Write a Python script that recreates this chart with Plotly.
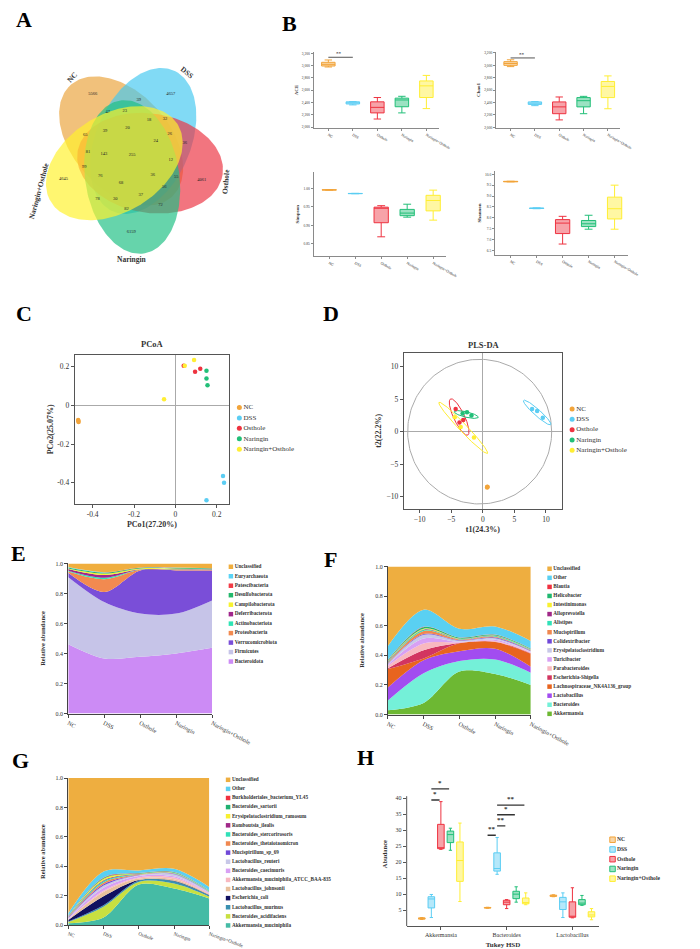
import numpy as np
import plotly.graph_objects as go

W, H = 700, 949
SERIF = "Liberation Serif"
INK = "#333333"

# ---------------- data ----------------
GROUPS = ["NC", "DSS", "Osthole", "Naringin", "Naringin+Osthole"]
GROUP_COLORS = ["#F2A43A", "#5BCDF3", "#EE3340", "#22BF78", "#FFEE33"]

# A: Venn (shared OTUs)
VENN_COLORS = ["#EBA43C", "#46C8F0", "#EC3343", "#1EC083", "#FFF22C"]
VENN_DIRS = [126, 54, 342, 270, 198]
VENN_COUNTS = [5566, 4657, 4061, 6159, 4645, 39, 47, 23, 18, 32, 65, 39, 20, 26, 24,
               36, 81, 143, 255, 12, 99, 36, 55, 76, 68, 56, 78, 30, 37, 72, 82]
VENN_LX = [-42, 41, 74, -1, -73, 7, -26, -8, 18, 35, -50, -29, -5, 40, 25,
           56, -47, -30, 0, 41, -51, 22, 47, -34, -12, 34, -37, -18, 9, 30, -6]
VENN_LY = [64, 64, -23, -75, -22, 58, 45, 46, 37, 38, 22, 26, 29, 23, 16,
           14, 5, 3, 2, -3, -10, -18, -20, -19, -26, -30, -42, -42, -38, -48, -52]
VENN_NAME_X = [-64, 58, 100, 0, -99]
VENN_NAME_Y = [80, 85, -25, -103, -34]
VENN_NAME_ANGLE = [-48, 40, -85, 0, -75]

# B: alpha diversity  [lower, q1, median, q3, upper] per group
ACE_STATS = [[2977, 2993, 3020, 3053, 3091], [2360, 2375, 2395, 2410, 2412],
             [2130, 2230, 2320, 2410, 2480], [2230, 2330, 2440, 2470, 2500],
             [2300, 2480, 2670, 2750, 2840]]
CHAO1_STATS = [[2980, 3000, 3030, 3060, 3090], [2350, 2370, 2390, 2410, 2415],
               [2120, 2220, 2330, 2410, 2490], [2220, 2330, 2430, 2480, 2500],
               [2300, 2480, 2660, 2740, 2830]]
SIMPSON_STATS = [[0.9950, 0.9952, 0.9956, 0.9960, 0.9962], [0.9852, 0.9855, 0.9858, 0.9861, 0.9863],
                 [0.869, 0.907, 0.946, 0.949, 0.953], [0.922, 0.926, 0.933, 0.943, 0.957],
                 [0.914, 0.939, 0.967, 0.981, 0.995]]
SHANNON_STATS = [[9.65, 9.655, 9.665, 9.675, 9.68], [8.42, 8.43, 8.44, 8.45, 8.46],
                 [6.80, 7.28, 7.76, 7.92, 8.07], [7.48, 7.60, 7.73, 7.88, 8.12],
                 [7.48, 7.95, 8.42, 8.95, 9.50]]
ACE_SIG_Y, CHAO1_SIG_Y = 3135, 3120

# C: PCoA
PCOA_X = [[-0.470, -0.468, -0.469], [0.230, 0.235, 0.150], [0.040, 0.095, 0.120],
          [0.150, 0.150, 0.155], [0.045, 0.090, -0.055]]
PCOA_Y = [[-0.075, -0.085, -0.080], [-0.365, -0.400, -0.490], [0.205, 0.175, 0.190],
          [0.180, 0.140, 0.105], [0.205, 0.235, 0.032]]

# D: PLS-DA
PLS_X = [[0.70, 0.75, 0.68], [7.8, 8.6, 9.5], [-4.3, -3.1, -3.7], [-3.2, -2.5, -1.8], [-4.45, -3.5, -1.4]]
PLS_Y = [[-8.5, -8.55, -8.6], [3.5, 3.2, 2.15], [3.5, 1.8, 1.4], [2.8, 3.0, 2.5], [2.2, 0.7, -0.9]]
# group, cx, cy, semi-major, semi-minor, angle
PLS_ELLIPSES = [(1, 8.6, 2.95, 2.85, 0.5, -41), (2, -3.75, 2.25, 3.1, 0.85, -64),
                (3, -2.62, 2.64, 1.95, 0.42, -13), (4, -3.1, 0.58, 5.5, 0.6, -45.7)]
PLS_CIRCLE = (-0.5, 0.0, 11.4, 11.15)

# E: phylum
E_TAXA = ["Bacteroidota", "Firmicutes", "Verrucomicrobiota", "Proteobacteria", "Actinobacteriota",
          "Deferribacterota", "Campilobacterota", "Desulfobacterota", "Patescibacteria",
          "Euryarchaeota", "Unclassified"]
E_COLORS = ["#CC8BF5", "#C6C4E8", "#7A4ED8", "#F28A50", "#2FE4B5", "#A0268C",
            "#F7F22E", "#23B86B", "#F23B47", "#5AD3F5", "#F0AE3E"]
E_VALUES = [[0.462, 0.367, 0.378, 0.400, 0.438],
            [0.447, 0.376, 0.288, 0.266, 0.316],
            [0.029, 0.067, 0.288, 0.288, 0.200],
            [0.008, 0.085, 0.004, 0.008, 0.004],
            [0.006, 0.010, 0.002, 0.002, 0.002],
            [0.012, 0.018, 0.001, 0.001, 0.001],
            [0.003, 0.010, 0.006, 0.001, 0.001],
            [0.006, 0.006, 0.005, 0.005, 0.005],
            [0.001, 0.001, 0.001, 0.001, 0.001],
            [0.002, 0.002, 0.001, 0.001, 0.001],
            [0.024, 0.058, 0.026, 0.027, 0.031]]

# F: genus
F_TAXA = ["Akkermansia", "Bacteroides", "Lactobacillus", "Lachnospiraceae_NK4A136_group",
          "Escherichia-Shigella", "Parabacteroides", "Turicibacter", "Erysipelatoclostridium",
          "Colidextribacter", "Mucispirillum", "Alistipes", "Alloprevotella", "Intestinimonas",
          "Helicobacter", "Blautia", "Other", "Unclassified"]
F_COLORS = ["#6DB833", "#74F0D8", "#A24CF0", "#E8641E", "#D23560", "#F8B8C0", "#D8A0F4",
            "#C8C8E8", "#7048D8", "#F08850", "#30E0B8", "#A02888", "#F8F030", "#20B870",
            "#F03040", "#5AD0F2", "#EEAE40"]
F_VALUES = [[0.029, 0.078, 0.290, 0.274, 0.200],
            [0.065, 0.200, 0.071, 0.098, 0.083],
            [0.089, 0.089, 0.067, 0.073, 0.040],
            [0.124, 0.012, 0.053, 0.045, 0.088],
            [0.005, 0.055, 0.002, 0.002, 0.003],
            [0.015, 0.045, 0.003, 0.005, 0.005],
            [0.010, 0.035, 0.005, 0.008, 0.004],
            [0.005, 0.025, 0.008, 0.010, 0.005],
            [0.003, 0.005, 0.003, 0.005, 0.003],
            [0.005, 0.020, 0.005, 0.006, 0.003],
            [0.004, 0.008, 0.003, 0.005, 0.003],
            [0.006, 0.003, 0.001, 0.001, 0.002],
            [0.004, 0.005, 0.002, 0.002, 0.002],
            [0.004, 0.010, 0.006, 0.004, 0.003],
            [0.002, 0.003, 0.002, 0.002, 0.002],
            [0.093, 0.115, 0.058, 0.055, 0.051],
            [0.537, 0.292, 0.421, 0.405, 0.503]]

# G: species
G_TAXA = ["Akkermansia_muciniphila", "Bacteroides_acidifaciens", "Lactobacillus_murinus",
          "Escherichia_coli", "Lactobacillus_johnsonii", "Akkermansia_muciniphila_ATCC_BAA-835",
          "Bacteroides_caecimuris", "Lactobacillus_reuteri", "Mucispirillum_sp_69",
          "Bacteroides_thetaiotaomicron", "Bacteroides_stercorirosoris", "Romboutsia_ilealis",
          "Erysipelatoclostridium_ramosum", "Bacteroides_sartorii", "Burkholderiales_bacterium_YL45",
          "Other", "Unclassified"]
G_COLORS = ["#45BBA5", "#C8E040", "#3A90B0", "#101060", "#E8C09C", "#F8B8C0", "#D8A0F4",
            "#C8C8E8", "#7048D8", "#F08850", "#30E0B8", "#A02888", "#F8F030", "#20B070",
            "#F03040", "#5AD0F2", "#EEAE40"]
G_VALUES = [[0.013, 0.052, 0.276, 0.249, 0.182],
            [0.008, 0.074, 0.018, 0.034, 0.012],
            [0.004, 0.010, 0.010, 0.015, 0.008],
            [0.010, 0.060, 0.003, 0.004, 0.003],
            [0.004, 0.030, 0.010, 0.010, 0.006],
            [0.002, 0.008, 0.008, 0.012, 0.004],
            [0.004, 0.020, 0.010, 0.008, 0.004],
            [0.003, 0.015, 0.005, 0.014, 0.005],
            [0.004, 0.010, 0.002, 0.003, 0.002],
            [0.003, 0.012, 0.003, 0.003, 0.002],
            [0.003, 0.010, 0.002, 0.002, 0.002],
            [0.002, 0.005, 0.001, 0.001, 0.001],
            [0.001, 0.010, 0.001, 0.001, 0.001],
            [0.002, 0.005, 0.004, 0.004, 0.003],
            [0.001, 0.004, 0.001, 0.001, 0.001],
            [0.017, 0.040, 0.018, 0.022, 0.024],
            [0.919, 0.635, 0.628, 0.617, 0.740]]

# H: Tukey HSD, [lower, q1, median, q3, upper] per genus, per group
H_GENERA = ["Akkermansia", "Bacteroides", "Lactobacillus"]
H_STATS = [
    [[2.1, 2.2, 2.4, 2.6, 2.7], [5.6, 5.65, 5.75, 5.85, 5.9], [9.2, 9.3, 9.5, 9.7, 9.8]],
    [[2.7, 5.7, 8.5, 9.2, 9.9], [16.2, 17.2, 18.0, 22.9, 27.7], [2.7, 5.2, 7.6, 9.0, 10.4]],
    [[24.0, 24.2, 24.5, 31.8, 38.9], [5.5, 6.7, 7.5, 8.1, 8.3], [2.6, 2.8, 3.0, 7.6, 12.0]],
    [[23.7, 26.1, 28.6, 29.7, 30.6], [7.5, 8.6, 10.0, 10.9, 12.3], [6.5, 6.7, 7.2, 8.3, 9.6]],
    [[7.7, 14.0, 20.5, 26.3, 32.2], [6.7, 7.0, 7.4, 8.8, 10.4], [2.0, 2.9, 3.5, 4.5, 5.5]],
]
# genus, from group, to group, y, label
H_SIG = [(0, 1, 2, 39.4, "*"), (0, 1, 3, 42.9, "*"),
         (1, 0, 1, 28.4, "**"), (1, 1, 2, 31.3, "**"), (1, 1, 3, 34.8, "*"), (1, 1, 4, 37.8, "**")]
H_OFFSETS = [-0.29, -0.145, 0.0, 0.145, 0.29]


def rgba(c, a):
    c = c.lstrip("#")
    return f"rgba({int(c[0:2], 16)},{int(c[2:4], 16)},{int(c[4:6], 16)},{a})"


def ref(n, k):
    return k if n == 1 else f"{k}{n}"


layout = dict(width=W, height=H, margin=dict(l=0, r=0, t=0, b=0),
              paper_bgcolor="white", plot_bgcolor="rgba(0,0,0,0)",
              showlegend=False, boxmode="overlay",
              font=dict(family=SERIF, color=INK), annotations=[], shapes=[])


def set_axes(n, px_x, px_y, xa, ya):
    layout["xaxis" if n == 1 else f"xaxis{n}"] = dict(domain=[px_x[0] / W, px_x[1] / W], anchor=ref(n, "y"), **xa)
    layout["yaxis" if n == 1 else f"yaxis{n}"] = dict(domain=[1 - px_y[1] / H, 1 - px_y[0] / H], anchor=ref(n, "x"), **ya)


def line_axis(color="#444444", size=6, **kw):
    d = dict(showline=True, linecolor=color, linewidth=1, ticks="outside", ticklen=3,
             tickcolor=color, tickwidth=1, showgrid=False, zeroline=False,
             tickfont=dict(size=size, family=SERIF, color=INK))
    d.update(kw)
    return d


def text_note(x, y, text, size, bold=False, angle=0, xref="paper", yref="paper", color=INK):
    if xref == "paper":
        x, y = x / W, 1 - y / H
    layout["annotations"].append(dict(
        x=x, y=y, xref=xref, yref=yref, text=f"<b>{text}</b>" if bold else text,
        showarrow=False, textangle=angle, xanchor="center", yanchor="middle",
        font=dict(size=size, family=SERIF, color=color)))


fig = go.Figure()

# ---------------- A: Venn ----------------
t = np.linspace(0, 2 * np.pi, 200)
for col, ang in zip(VENN_COLORS, VENN_DIRS):
    phi, alpha = np.radians(ang), np.radians(ang + 10)
    cx, cy = 20 * np.cos(phi), 20 * np.sin(phi)
    ex = cx + 78 * np.cos(t) * np.cos(alpha) - 50 * np.sin(t) * np.sin(alpha)
    ey = cy + 78 * np.cos(t) * np.sin(alpha) + 50 * np.sin(t) * np.cos(alpha)
    fig.add_trace(go.Scatter(x=ex, y=ey, mode="lines", fill="toself", fillcolor=rgba(col, 0.68),
                             line=dict(width=0), hoverinfo="skip", xaxis="x", yaxis="y"))
fig.add_trace(go.Scatter(x=VENN_LX, y=VENN_LY, mode="text", text=[str(c) for c in VENN_COUNTS],
                         textfont=dict(size=4.5, family=SERIF, color="#222"), xaxis="x", yaxis="y"))
for name, x, y, a in zip(GROUPS, VENN_NAME_X, VENN_NAME_Y, VENN_NAME_ANGLE):
    text_note(x, y, name, 7.5, bold=True, angle=a, xref="x", yref="y")
hidden = dict(visible=False, range=[-115, 115], fixedrange=True)
set_axes(1, (15, 245), (32, 262), dict(hidden), dict(hidden))

# ---------------- B: alpha diversity boxes ----------------
alpha_panels = [
    (2, "ACE", ACE_STATS, (323, 456), (41, 118), [1980, 3225], 200, ",d", ACE_SIG_Y),
    (3, "Chao1", CHAO1_STATS, (517, 649), (41, 118), [1985, 3220], 200, ",d", CHAO1_SIG_Y),
    (4, "Simpson", SIMPSON_STATS, (323, 464), (162, 247), [0.816, 1.044], 0.05, ".2f", None),
    (5, "Shannon", SHANNON_STATS, (516, 657), (161, 245.5), [6.3, 10.15], 0.5, ".1f", None),
]
for n, label, stats, px_x, px_y, yr, dt, fmt, sig in alpha_panels:
    for g, col, s in zip(GROUPS, GROUP_COLORS, stats):
        fig.add_trace(go.Box(x=[g], lowerfence=[s[0]], q1=[s[1]], median=[s[2]], q3=[s[3]],
                             upperfence=[s[4]], fillcolor=rgba(col, 0.45), line=dict(color=col, width=1),
                             width=0.55, whiskerwidth=0.55, boxpoints=False,
                             xaxis=ref(n, "x"), yaxis=ref(n, "y")))
    if sig is not None:
        fig.add_trace(go.Scatter(x=GROUPS[:2], y=[sig, sig], mode="lines",
                                 line=dict(color="#555", width=1), xaxis=ref(n, "x"), yaxis=ref(n, "y")))
        text_note(0.45, sig + (yr[1] - yr[0]) * 0.045, "**", 5, bold=True, xref=ref(n, "x"), yref=ref(n, "y"))
    set_axes(n, px_x, px_y,
             line_axis("#8a8a8a", 3.8, type="category", categoryorder="array", categoryarray=GROUPS,
                       range=[-0.6, 4.5], tickangle=30, ticklen=2),
             line_axis("#8a8a8a", 3.6, range=yr, dtick=dt, tickformat=fmt, ticklen=2,
                       title=dict(text=f"<b>{label}</b>", font=dict(size=5, family=SERIF), standoff=3)))

# ---------------- C: PCoA ----------------
for g, col, xs, ys in zip(GROUPS, GROUP_COLORS, PCOA_X, PCOA_Y):
    fig.add_trace(go.Scatter(x=xs, y=ys, mode="markers", marker=dict(size=4.5, color=col),
                             xaxis="x6", yaxis="y6"))
frame = dict(mirror=True, zeroline=True, zerolinecolor="#AAAAAA", zerolinewidth=1)
set_axes(6, (69, 233), (346, 496),
         line_axis("#555", 7.5, range=[-0.486, 0.259], tickvals=[-0.4, -0.2, 0, 0.2],
                   ticktext=["-0.4", "-0.2", "0", "0.2"], linewidth=1.3,
                   title=dict(text="<b>PCo1(27.20%)</b>", font=dict(size=8), standoff=3), **frame),
         line_axis("#555", 7.5, range=[-0.509, 0.262], tickvals=[-0.4, -0.2, 0, 0.2],
                   ticktext=["-0.4", "-0.2", "0", "0.2"], linewidth=1.3,
                   title=dict(text="<b>PCo2(25.07%)</b>", font=dict(size=8), standoff=2), **frame))
text_note(152, 335, "PCoA", 8.5, bold=True)

# ---------------- D: PLS-DA ----------------
ccx, ccy, crx, cry = PLS_CIRCLE
fig.add_trace(go.Scatter(x=ccx + crx * np.cos(t), y=ccy + cry * np.sin(t), mode="lines",
                         line=dict(color="#AAAAAA", width=1), xaxis="x7", yaxis="y7"))
for gi, cx, cy, a, b, ang in PLS_ELLIPSES:
    al = np.radians(ang)
    fig.add_trace(go.Scatter(x=cx + a * np.cos(t) * np.cos(al) - b * np.sin(t) * np.sin(al),
                             y=cy + a * np.cos(t) * np.sin(al) + b * np.sin(t) * np.cos(al),
                             mode="lines", line=dict(color=GROUP_COLORS[gi], width=1),
                             xaxis="x7", yaxis="y7"))
for g, col, xs, ys in zip(GROUPS, GROUP_COLORS, PLS_X, PLS_Y):
    fig.add_trace(go.Scatter(x=xs, y=ys, mode="markers", marker=dict(size=4.5, color=col),
                             xaxis="x7", yaxis="y7"))
set_axes(7, (419, 587), (344, 501),
         line_axis("#555", 7.5, range=[-12.5, 12.5], tickvals=[-10, -5, 0, 5, 10], linewidth=1.3,
                   title=dict(text="<b>t1(24.3%)</b>", font=dict(size=8), standoff=3), **frame),
         line_axis("#555", 7.5, range=[-11.9, 12.15], tickvals=[-10, -5, 0, 5, 10], linewidth=1.3,
                   title=dict(text="<b>t2(22.2%)</b>", font=dict(size=8), standoff=3), **frame))
text_note(504, 336, "PLS-DA", 8.5, bold=True)

# ---------------- E / F / G: stacked areas ----------------
xpos = list(range(len(GROUPS)))
area_panels = [(8, E_VALUES, E_COLORS, (62, 215), (556, 707), 6, 28),
               (9, F_VALUES, F_COLORS, (402, 554), (559, 708), 6, 28),
               (10, G_VALUES, G_COLORS, (62, 212), (772, 920), 5, 20)]
for n, values, colors, px_x, px_y, tfs, tang in area_panels:
    for vals, col in zip(values, colors):
        fig.add_trace(go.Scatter(x=xpos, y=vals, mode="lines", stackgroup=f"s{n}",
                                 line=dict(width=0, shape="spline", smoothing=0.9),
                                 fillcolor=col, xaxis=ref(n, "x"), yaxis=ref(n, "y")))
    set_axes(n, px_x, px_y,
             line_axis("#444", tfs, range=[0, 4], tickvals=xpos, ticktext=GROUPS, tickangle=tang),
             line_axis("#444", 6, range=[0, 1.0], dtick=0.2, tickformat=".1f",
                       title=dict(text="<b>Relative abundance</b>", font=dict(size=6.5), standoff=9)))

# ---------------- H: Tukey HSD boxes ----------------
for g, col, off, stats in zip(GROUPS, GROUP_COLORS, H_OFFSETS, H_STATS):
    fig.add_trace(go.Box(x=[i + off for i in range(len(H_GENERA))],
                         lowerfence=[s[0] for s in stats], q1=[s[1] for s in stats],
                         median=[s[2] for s in stats], q3=[s[3] for s in stats],
                         upperfence=[s[4] for s in stats], fillcolor=rgba(col, 0.45),
                         line=dict(color=col, width=1), width=0.1, whiskerwidth=0.5,
                         boxpoints=False, xaxis="x11", yaxis="y11"))
for gen, g0, g1, y, lab in H_SIG:
    x0, x1 = gen + H_OFFSETS[g0], gen + H_OFFSETS[g1] - 0.02
    fig.add_trace(go.Scatter(x=[x0, x1], y=[y, y], mode="lines", line=dict(color="#333", width=1.3),
                             xaxis="x11", yaxis="y11"))
    text_note((x0 + x1) / 2, y + 1.9, lab, 7, bold=True, xref="x11", yref="y11")
set_axes(11, (422, 627), (776, 921),
         line_axis("#555", 6, range=[-0.52, 2.41], tickvals=list(range(len(H_GENERA))), ticktext=H_GENERA,
                   title=dict(text="<b>Tukey HSD</b>", font=dict(size=7), standoff=4)),
         line_axis("#555", 6, range=[0, 45], tickvals=[5, 10, 15, 20, 25, 30, 35, 40], showline=False,
                   title=dict(text="<b>Abudance</b>", font=dict(size=6.5), standoff=7)))
layout["shapes"].append(dict(type="line", xref="x11 domain", yref="y11", x0=0, x1=0, y0=0, y1=40.6,
                             line=dict(color="#555", width=1)))

# ---------------- legends (overlay in pixel units) ----------------
def legend(names, colors, x0, y0, dy, size, fsize, symbol="square", bold=True, box=False):
    ys = y0 + dy * np.arange(len(names))
    marker = dict(symbol=symbol, size=size, color=colors, line=dict(width=0))
    if box:
        marker = dict(symbol=symbol, size=size, color=[rgba(c, 0.45) for c in colors],
                      line=dict(color=colors, width=1))
    fig.add_trace(go.Scatter(x=[x0] * len(names), y=ys, mode="markers+text", text=names,
                             textposition="middle right", marker=marker,
                             textfont=dict(size=fsize, family=SERIF, color=INK,
                                           weight="bold" if bold else "normal"),
                             xaxis="x12", yaxis="y12"))


legend(GROUPS, GROUP_COLORS, 244, 399, 10.5, 5, 7, symbol="circle", bold=False)
legend(GROUPS, GROUP_COLORS, 598, 400.5, 10.4, 5, 7, symbol="circle", bold=False)
legend(E_TAXA[::-1], E_COLORS[::-1], 235, 559.3, 9.54, 4.5, 5.2)
legend(F_TAXA[::-1], F_COLORS[::-1], 574, 561.3, 9.125, 4.5, 5.2)
legend(G_TAXA[::-1], G_COLORS[::-1], 232, 773.7, 9.16, 4.5, 5.2)
legend(GROUPS, GROUP_COLORS, 641, 834, 9.8, 5.5, 5.6, box=True)
overlay = dict(visible=False, fixedrange=True)
set_axes(12, (0, W), (0, H), dict(overlay, range=[0, W]), dict(overlay, range=[H, 0]))

# ---------------- panel letters ----------------
for letter, x, y in [("A", 15, 9), ("B", 297, 13), ("C", 15, 304), ("D", 342, 304),
                     ("E", 9, 546), ("F", 341, 552), ("G", 11, 754), ("H", 378, 751)]:
    text_note(x, y, letter, 22, bold=True, color="black")

fig.update_layout(**layout)
fig.write_html("out.html")
